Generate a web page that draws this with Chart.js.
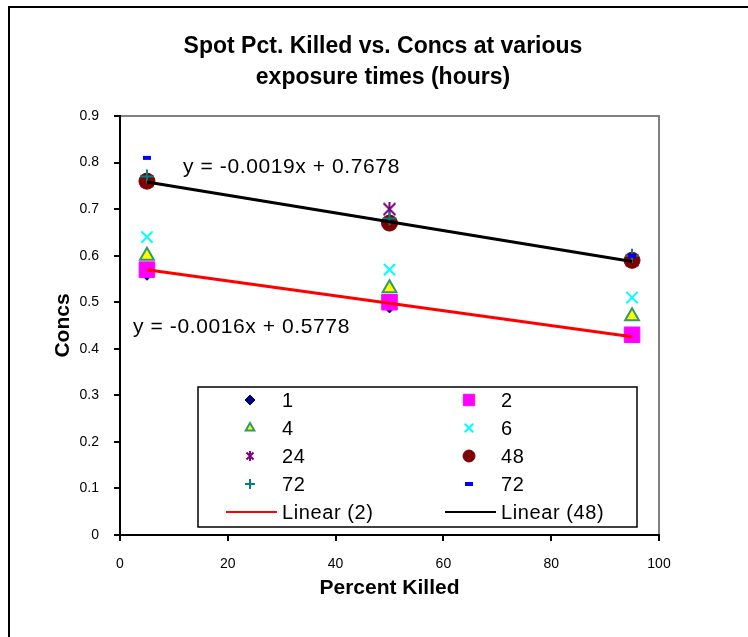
<!DOCTYPE html>
<html>
<head>
<meta charset="utf-8">
<script src="https://cdn.jsdelivr.net/npm/chart.js@4.4.0/dist/chart.umd.min.js"></script>
<style>
  html, body { margin: 0; padding: 0; background: #fff; }
  #wrap { width: 748px; height: 637px; position: relative; }
</style>
</head>
<body>
<div id="wrap"><canvas id="spotChart"></canvas></div>
<script>
// values
const percentKilled = [5, 50, 95];
const conc1 = [0.56, 0.49, 0.43];
const conc2 = [0.57, 0.50, 0.43];
const conc4 = [0.60, 0.53, 0.47];
const conc6 = [0.64, 0.57, 0.51];
const conc24 = [0.76, 0.70, 0.59];
const conc48 = [0.76, 0.67, 0.59];
const conc72a = [0.77, 0.68, 0.60];
const conc72b = [0.81, null, 0.60];
// trendline end points (x = 5 and x = 95)
const trendX = [5, 95];
const trend2 = [0.5698, 0.4258];
const trend48 = [0.7583, 0.5873];
const trendLabels = ["y = -0.0016x + 0.5778", "y = -0.0019x + 0.7678"];
const xTicks = [0, 20, 40, 60, 80, 100];
const yTicks = [0, 0.1, 0.2, 0.3, 0.4, 0.5, 0.6, 0.7, 0.8, 0.9];

Chart.defaults.font.family = "'Liberation Sans', Arial, sans-serif";
Chart.defaults.color = "#000";

// excel style marker: x with a vertical bar
function starMarker(size, color) {
  const c = document.createElement("canvas");
  c.width = size; c.height = size;
  const g = c.getContext("2d");
  g.strokeStyle = color; g.lineWidth = 2;
  const m = 1.5, e = size - 1.5;
  g.beginPath();
  g.moveTo(m, m); g.lineTo(e, e);
  g.moveTo(e, m); g.lineTo(m, e);
  g.moveTo(size / 2, 0); g.lineTo(size / 2, size);
  g.stroke();
  return c;
}

const pts = (ys) => percentKilled.map((x, i) => ({ x: x, y: ys[i] }));

const markerSets = [
  { label: "1", data: pts(conc1), pointStyle: "rectRot", pointRadius: 6, backgroundColor: "#000080", borderColor: "#000080", legendRadius: 5 },
  { label: "2", data: pts(conc2), pointStyle: "rect", pointRadius: 11, backgroundColor: "#FF00FF", borderColor: "#FF00FF", legendRadius: 8 },
  { label: "4", data: pts(conc4), pointStyle: "triangle", pointRadius: 8, backgroundColor: "#FFFF00", borderColor: "#339966", borderWidth: 2, legendRadius: 5 },
  { label: "6", data: pts(conc6), pointStyle: "crossRot", pointRadius: 8, backgroundColor: "#00FFFF", borderColor: "#00FFFF", borderWidth: 2, legendRadius: 6 },
  { label: "24", data: pts(conc24), pointStyle: starMarker(15, "#800080"), legendStyle: starMarker(10, "#800080"), pointRadius: 8, backgroundColor: "#800080", borderColor: "#800080" },
  { label: "48", data: pts(conc48), pointStyle: "circle", pointRadius: 8, backgroundColor: "#800000", borderColor: "#800000", legendRadius: 6 },
  { label: "72", data: pts(conc72a), pointStyle: "cross", pointRadius: 7, backgroundColor: "#008080", borderColor: "#008080", borderWidth: 2, legendRadius: 5 },
  { label: "72", data: pts(conc72b), pointStyle: "line", pointRadius: 4, backgroundColor: "#0000FF", borderColor: "#0000FF", borderWidth: 4, legendRadius: 4 },
];

const datasets = markerSets.map((s, i) => ({
  borderWidth: 1,
  ...s,
  showLine: false,
  pointHoverRadius: s.pointRadius,
  order: 10 - i,
}));

datasets.push({
  label: "Linear (2)",
  data: trendX.map((x, i) => ({ x: x, y: trend2[i] })),
  showLine: true, borderColor: "#FF0000", borderWidth: 3, pointRadius: 0, order: 1, isTrend: true,
});
datasets.push({
  label: "Linear (48)",
  data: trendX.map((x, i) => ({ x: x, y: trend48[i] })),
  showLine: true, borderColor: "#000000", borderWidth: 3, pointRadius: 0, order: 0, isTrend: true,
});

const framePlugin = {
  id: "frame",
  beforeDraw(chart) {
    const { ctx, chartArea: a } = chart;
    ctx.save();
    ctx.fillStyle = "#fff";
    ctx.fillRect(0, 0, chart.width, chart.height);
    ctx.strokeStyle = "#000";
    ctx.lineWidth = 2;
    ctx.strokeRect(9, 7, chart.width + 20, chart.height + 20);
    ctx.strokeStyle = "#808080";
    ctx.lineWidth = 2;
    ctx.strokeRect(a.left, a.top, a.right - a.left, a.bottom - a.top);
    ctx.restore();
  },
  afterDraw(chart) {
    const { ctx } = chart;
    ctx.save();
    // trendline equations
    ctx.fillStyle = "#000";
    ctx.font = "21px 'Liberation Sans', Arial, sans-serif";
    ctx.letterSpacing = "0.6px";
    ctx.textBaseline = "middle";
    ctx.fillText(trendLabels[1], 183, 167);
    ctx.fillText(trendLabels[0], 133, 327);

    // legend box
    const bx = 198, by = 387, bw = 439, bh = 140;
    ctx.fillStyle = "#fff";
    ctx.fillRect(bx, by, bw, bh);
    ctx.strokeStyle = "#000";
    ctx.lineWidth = 1.5;
    ctx.strokeRect(bx, by, bw, bh);
    const colMarker = [250, 469], colText = [282, 501];
    const rowY = [400, 428, 456, 484, 512];
    ctx.font = "20px 'Liberation Sans', Arial, sans-serif";
    ctx.letterSpacing = "0.6px";
    chart.data.datasets.forEach((ds, i) => {
      const col = i % 2, row = Math.floor(i / 2);
      const y = rowY[row];
      if (ds.isTrend) {
        ctx.strokeStyle = ds.borderColor;
        ctx.lineWidth = 2;
        ctx.beginPath();
        ctx.moveTo(colMarker[col] - 24, y);
        ctx.lineTo(colMarker[col] + 27, y);
        ctx.stroke();
      } else {
        ctx.fillStyle = ds.backgroundColor;
        ctx.strokeStyle = ds.borderColor;
        ctx.lineWidth = ds.borderWidth;
        Chart.helpers.drawPoint(ctx, {
          pointStyle: ds.legendStyle || ds.pointStyle,
          radius: ds.legendRadius || 5,
          rotation: 0,
          borderWidth: ds.borderWidth,
        }, colMarker[col], y);
      }
      ctx.fillStyle = "#000";
      ctx.fillText(ds.label, colText[col], y + 1);
    });
    ctx.restore();
  },
};

new Chart(document.getElementById("spotChart"), {
  type: "scatter",
  data: { datasets },
  plugins: [framePlugin],
  options: {
    responsive: true,
    maintainAspectRatio: false,
    animation: false,
    layout: { padding: { left: 18, top: 0, right: 0, bottom: 0 } },
    plugins: {
      legend: { display: false },
      tooltip: { enabled: false },
      title: {
        display: true,
        text: ["Spot Pct. Killed vs. Concs at various", "exposure times (hours)"],
        font: { size: 23, weight: "bold", lineHeight: 1.35 },
        color: "#000",
        padding: { top: 31.5, bottom: 22.4 },
      },
    },
    scales: {
      x: {
        type: "linear",
        min: 0, max: 100,
        afterBuildTicks: (s) => { s.ticks = xTicks.map((v) => ({ value: v })); },
        afterFit: (s) => { s.height = 102; },
        grid: { drawOnChartArea: false, drawTicks: true, tickLength: 6, color: "#000", lineWidth: 2 },
        border: { display: true, color: "#000", width: 2 },
        ticks: { font: { size: 14 }, padding: 15, color: "#000" },
        title: { display: true, text: "Percent Killed", font: { size: 21, weight: "bold" }, padding: { bottom: 36.4 } },
      },
      y: {
        type: "linear",
        min: 0, max: 0.9,
        afterBuildTicks: (s) => { s.ticks = yTicks.map((v) => ({ value: v })); },
        afterFit: (s) => { s.width = 102; },
        grid: { drawOnChartArea: false, drawTicks: true, tickLength: 6, color: "#000", lineWidth: 2 },
        border: { display: true, color: "#000", width: 2 },
        ticks: { font: { size: 14 }, padding: 15, color: "#000", callback: (v) => (v === 0 ? "0" : v.toFixed(1)) },
        title: { display: true, text: "Concs", font: { size: 21, weight: "bold" }, padding: { top: 32.4 } },
      },
      // empty right-hand box so the plot ends where the reference's does
      yRight: {
        type: "linear",
        position: "right",
        display: true,
        afterFit: (s) => { s.width = 89; },
        grid: { display: false },
        border: { display: false },
        ticks: { display: false },
      },
    },
  },
});
</script>
</body>
</html>
